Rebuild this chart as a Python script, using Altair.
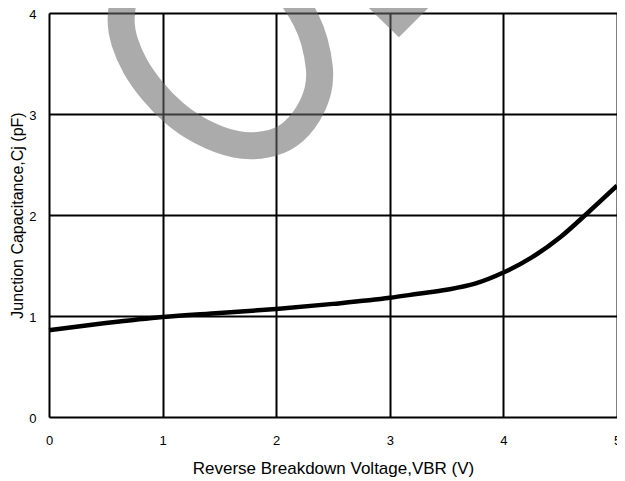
import altair as alt
import pandas as pd

# Main curve: reverse breakdown voltage (V) vs junction capacitance (pF)
vbr = [0, 0.5, 1, 1.5, 2, 2.5, 3, 3.25, 3.5, 3.75, 4, 4.25, 4.5, 4.75, 5]
cj = [0.86, 0.93, 0.99, 1.03, 1.07, 1.12, 1.18, 1.22, 1.26, 1.32, 1.43, 1.58, 1.78, 2.03, 2.29]

# Watermark loop (centreline, in data units)
wm_x = [0.67, 0.62, 0.66, 0.75, 0.91, 1.09, 1.31, 1.66, 1.92, 2.12, 2.29, 2.38, 2.39, 2.34, 2.27, 2.16, 2.08]
wm_y = [4.23, 3.93, 3.71, 3.47, 3.22, 3.01, 2.83, 2.67, 2.69, 2.77, 2.99, 3.24, 3.44, 3.73, 3.93, 4.13, 4.23]

# Watermark wedge (top right)
wd_x = [2.65, 3.08, 3.50]
wd_top = [4.23, 4.23, 4.23]
wd_bot = [4.23, 3.76, 4.23]

FONT = "Liberation Sans"

curve = pd.DataFrame({"v": vbr, "c": cj})
loop = pd.DataFrame({"x": wm_x, "y": wm_y, "o": list(range(len(wm_x)))})
wedge = pd.DataFrame({"x": wd_x, "y": wd_top, "y2": wd_bot})

xs = alt.Scale(domain=[0, 5], nice=False, zero=False)
ys = alt.Scale(domain=[0, 4], nice=False, zero=False)

base_x_axis = alt.Axis(
    values=[0, 1, 2, 3, 4, 5], format="d", grid=True, gridColor="black", gridWidth=2, gridOpacity=1,
    domain=False, ticks=False, labelPadding=17, labelFont=FONT, labelFontSize=13,
    labelColor="black", title="Reverse Breakdown Voltage,VBR (V)", titleFont=FONT,
    titleFontSize=17, titleFontWeight="normal", titleColor="black",
    titleY=51, titleBaseline="middle", labelFlush=False,
)
base_y_axis = alt.Axis(
    values=[0, 1, 2, 3, 4], format="d", grid=True, gridColor="black", gridWidth=2, gridOpacity=1,
    domain=False, ticks=False, labelPadding=13, labelFont=FONT, labelFontSize=13,
    labelColor="black", labelOffset=1.5, title="Junction Capacitance,Cj (pF)", titleFont=FONT,
    titleFontSize=16, titleFontWeight="normal", titleColor="black",
    titleX=-32, titleBaseline="middle", labelFlush=False,
)

line = alt.Chart(curve).mark_line(color="black", strokeWidth=4.5, interpolate="monotone").encode(
    x=alt.X("v:Q", scale=xs, axis=base_x_axis),
    y=alt.Y("c:Q", scale=ys, axis=base_y_axis),
)

wm_loop = alt.Chart(loop).mark_line(
    color="#6a6a6a", opacity=0.56, strokeWidth=27, interpolate="basis", clip=False
).encode(
    x=alt.X("x:Q", scale=xs),
    y=alt.Y("y:Q", scale=ys),
    order="o:Q",
)

wm_wedge = alt.Chart(wedge).mark_area(color="#6a6a6a", opacity=0.56, clip=False).encode(
    x=alt.X("x:Q", scale=xs),
    y=alt.Y("y:Q", scale=ys),
    y2="y2:Q",
)

chart = alt.layer(line, wm_loop, wm_wedge).properties(
    width=568,
    height=404,
    autosize=alt.AutoSizeParams(type="none"),
    padding={"left": 41, "top": 5, "right": 0, "bottom": 62},
).configure_view(stroke="black", strokeWidth=3).configure(background="white")

chart.save("out.html", embed_options={"renderer": "svg", "actions": False})
